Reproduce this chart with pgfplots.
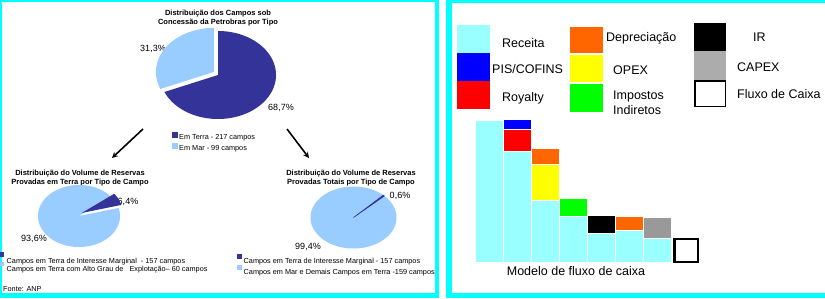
\documentclass[border=0pt]{standalone}
\usepackage{fontspec}
\setmainfont{Liberation Sans}
\usepackage{pgfplots}
\pgfplotsset{compat=1.18}
\definecolor{bord}{HTML}{00FFFF}
\definecolor{pdark}{HTML}{333399}
\definecolor{plight}{HTML}{99CCFF}
\definecolor{rec}{HTML}{99FFFF}
\definecolor{pis}{HTML}{0000FF}
\definecolor{roy}{HTML}{FF0000}
\definecolor{dep}{HTML}{FF6600}
\definecolor{opex}{HTML}{FFFF00}
\definecolor{imp}{HTML}{00FF00}
\definecolor{capexbar}{HTML}{999999}
\definecolor{capexleg}{HTML}{ACACAC}
\begin{document}
\begin{tikzpicture}
\begin{scope}[x=1bp,y=-1bp]
\path[use as bounding box] (0,0) rectangle (825,298);
% panels
\fill[bord] (0,0) rectangle (439,298);
\fill[white] (2,2) rectangle (435,293);
\fill[bord] (446,0) rectangle (826,298);
\fill[white] (452,3) rectangle (826,293);
% ---- left panel texts
\begin{scope}[font=\fontsize{7.5bp}{8.6bp}\selectfont\bfseries]
\node[align=center] at (218,18) {Distribuição dos Campos sob\\Concessão da Petrobras por Tipo};
\node[align=center] at (80,178) {Distribuição do Volume de Reservas\\Provadas em Terra por Tipo de Campo};
\node[align=center] at (351,178) {Distribuição do Volume de Reservas\\Provadas Totais por Tipo de Campo};
\end{scope}
\begin{scope}[font=\fontsize{9bp}{10bp}\selectfont]
\node at (153,49) {31,3\%};
\node at (281,108) {68,7\%};
\node at (128,202) {6,4\%};
\node at (34,239) {93,6\%};
\node at (400,196) {0,6\%};
\node at (308,247) {99,4\%};
\end{scope}
\begin{scope}[font=\fontsize{7.3bp}{8bp}\selectfont]
\fill[pdark] (172,132) rectangle (177.5,137.5);
\node[anchor=base west,inner sep=0] at (179,139.5) {Em Terra - 217 campos};
\fill[plight] (172,143) rectangle (177.5,148.5);
\node[anchor=base west,inner sep=0] at (179,150.5) {Em Mar - 99 campos};
\fill[pdark] (0,252) rectangle (4,256.5);
\node[anchor=base west,inner sep=0] at (6.5,263) {Campos em Terra de Interesse Marginal\ \ - 157 campos};
\fill[plight] (0,262) rectangle (4,266);
\node[anchor=base west,inner sep=0] at (6.5,271.5) {Campos em Terra com Alto Grau de\ \ \ Explotação– 60 campos};
\fill[pdark] (237,254) rectangle (242,258.5);
\node[anchor=base west,inner sep=0] at (243.5,263) {Campos em Terra de Interesse Marginal - 157 campos};
\fill[plight] (237,265) rectangle (242,270);
\node[anchor=base west,inner sep=0] at (243.5,274) {Campos em Mar e Demais Campos em Terra -159 campos};
\node[anchor=base west,inner sep=0] at (3,291.5) {Fonte: ANP};
\end{scope}
\draw[-stealth,line width=1.6bp] (143,129) -- (112,158);
\draw[-stealth,line width=1.6bp] (287,129) -- (309,158);
% ---- right panel legend
\fill[rec] (457,25) rectangle (490,53);
\fill[pis] (457,53) rectangle (490,81);
\fill[roy] (457,81) rectangle (490,109);
\fill[dep] (570,27) rectangle (603,53);
\fill[opex] (570,54.5) rectangle (603,82);
\fill[imp] (570,84) rectangle (603,112);
\fill[black] (694,23) rectangle (726,51);
\fill[capexleg] (694,51) rectangle (726,80);
\draw[black,line width=1.5bp] (694.75,80.75) rectangle (725.25,106.25);
\begin{scope}[font=\fontsize{12.5bp}{14bp}\selectfont]
\node[anchor=base west,inner sep=0] at (502,47) {Receita};
\node[anchor=base west,inner sep=0] at (492,73.5) {PIS/COFINS};
\node[anchor=base west,inner sep=0] at (502,101.5) {Royalty};
\node[anchor=base west,inner sep=0] at (606,41) {Depreciação};
\node[anchor=base west,inner sep=0] at (613,74) {OPEX};
\node[anchor=base west,inner sep=0] at (613,99.5) {Impostos};
\node[anchor=base west,inner sep=0] at (613,114.5) {Indiretos};
\node[anchor=base west,inner sep=0] at (753,41.5) {IR};
\node[anchor=base west,inner sep=0] at (737,71.5) {CAPEX};
\node[anchor=base west,inner sep=0] at (737,98.5) {Fluxo de Caixa};
\node[anchor=base,inner sep=0] at (576,275.5) {Modelo de fluxo de caixa};
\end{scope}
\end{scope}
% ---- top pie
\begin{axis}[at={(218bp,-75bp)}, anchor=center, scale only axis, width=116bp, height=88bp,
  xmin=-1,xmax=1,ymin=-1,ymax=1, hide axis, clip=false]
\addplot[draw=none, fill=pdark, domain={90-3.6*68.7}:90, samples=100] ({cos(x)},{sin(x)}) -- (axis cs:0,0) -- cycle;
\addplot[draw=none, fill=plight, domain=90:{90+3.6*31.3}, samples=60] ({-0.07+cos(x)},{0.07+sin(x)}) -- (axis cs:-0.07,0.07) -- cycle;
\end{axis}
% ---- left pie
\begin{axis}[at={(79bp,-216bp)}, anchor=center, scale only axis, width=82bp, height=62bp,
  xmin=-1,xmax=1,ymin=-1,ymax=1, hide axis, clip=false]
\addplot[draw=none, fill=plight, domain={15+3.6*6.4}:375, samples=120] ({cos(x)},{sin(x)}) -- (axis cs:0,0) -- cycle;
\addplot[draw=none, fill=pdark, domain=15:{15+3.6*6.4}, samples=20] ({0.07+cos(x)},{0.1+sin(x)}) -- (axis cs:0.07,0.1) -- cycle;
\end{axis}
% ---- right pie
\begin{axis}[at={(353.5bp,-217.5bp)}, anchor=center, scale only axis, width=86bp, height=62bp,
  xmin=-1,xmax=1,ymin=-1,ymax=1, hide axis, clip=false]
\addplot[draw=none, fill=plight, domain={44+3.6*0.6}:404, samples=120] ({cos(x)},{sin(x)}) -- (axis cs:0,0) -- cycle;
\addplot[draw=pdark, line width=0.5bp, fill=pdark, domain=44:{44+3.6*0.6}, samples=5] ({cos(x)},{sin(x)}) -- (axis cs:0,0) -- cycle;
\end{axis}
% ---- waterfall (cumulative tops of each segment, painted from tallest down)
\begin{axis}[at={(475bp,-262bp)}, anchor=south west, scale only axis, width=224bp, height=150bp,
  xmin=0,xmax=8,ymin=0,ymax=150, hide axis, clip=false]
\addplot[ybar, bar width=1, bar shift=0pt, fill=pis, draw=white, line width=0.6bp] coordinates {(1.5,143)};
\addplot[ybar, bar width=1, bar shift=0pt, fill=roy, draw=white, line width=0.6bp] coordinates {(1.5,133)};
\addplot[ybar, bar width=1, bar shift=0pt, fill=dep, draw=white, line width=0.6bp] coordinates {(2.5,114) (5.5,46)};
\addplot[ybar, bar width=1, bar shift=0pt, fill=opex, draw=white, line width=0.6bp] coordinates {(2.5,98)};
\addplot[ybar, bar width=1, bar shift=0pt, fill=imp, draw=white, line width=0.6bp] coordinates {(3.5,64)};
\addplot[ybar, bar width=1, bar shift=0pt, fill=black, draw=white, line width=0.6bp] coordinates {(4.5,47)};
\addplot[ybar, bar width=1, bar shift=0pt, fill=capexbar, draw=white, line width=0.6bp] coordinates {(6.5,45)};
\addplot[ybar, bar width=1, bar shift=0pt, fill=rec, draw=white, line width=0.6bp] coordinates {(0.5,142) (1.5,111) (2.5,62) (3.5,46) (4.5,29) (5.5,32) (6.5,24)};
\addplot[ybar, bar width=0.84, bar shift=0pt, fill=white, draw=black, line width=2.4bp] coordinates {(7.54,22.8)};
\end{axis}
\end{tikzpicture}
\end{document}
